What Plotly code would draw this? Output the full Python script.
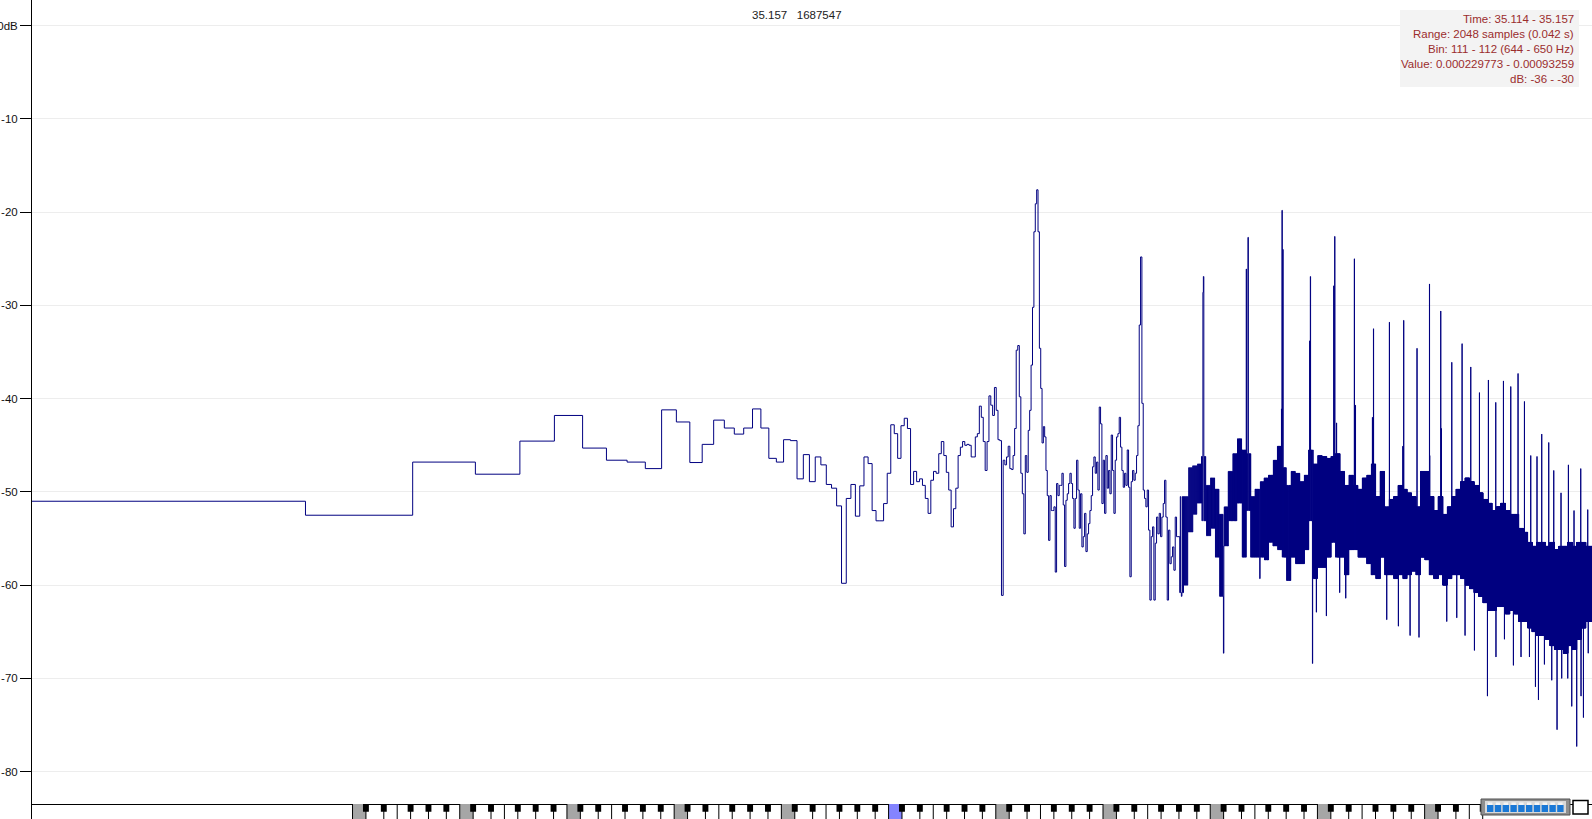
import numpy as np
import plotly.graph_objects as go

# ---------------- data ----------------
FS = 48000
NFFT = 8192
DF = FS / NFFT            # Hz per FFT bin
F_MIN, F_MAX = 1.0, 24000.0
DB_MIN, DB_MAX = -83.47, 2.756

# FFT bins 0..120 (one value per bin, dB)
low_db = [
    -51.0, -52.5, -46.8, -48.1, -44.55, -41.8, -45.3, -46.6, -46.8, -47.5,
    -41.2, -42.5, -46.85, -44.9, -42.3, -43.15, -43.8, -43.15, -41.1, -43.15,
    -46.4, -46.8, -44.4, -44.5, -48.6, -46.0, -48.9, -46.25, -47.1, -49.2,
    -49.6, -51.5, -59.8, -50.7, -49.2, -52.6, -49.35, -46.25, -46.96, -52.0,
    -53.1, -53.1, -51.25, -48.0, -42.8, -43.75, -46.4, -42.9, -42.1, -43.2,
    -49.2, -47.8, -48.9, -48.6, -49.3, -50.7, -52.3, -48.75, -47.8, -48.0,
    -45.9, -44.6, -46.1, -47.9, -49.8, -53.75, -51.8, -49.6, -46.1, -45.2,
    -44.6, -45.0, -44.9, -45.0, -46.25, -46.25, -44.1, -43.75, -40.8, -42.0,
    -44.6, -47.7, -44.6, -39.7, -40.7, -41.8, -38.8, -41.25, -44.4, -44.5,
    -61.1, -46.6, -47.1, -46.25, -45.1, -47.5, -47.6, -46.1, -43.2, -34.8,
    -34.3, -39.8, -48.0, -50.2, -54.5, -46.1, -47.9, -43.4, -41.25, -36.4,
    -30.2, -22.1, -19.1, -17.6, -22.1, -34.6, -38.9, -44.75, -43.0, -44.1,
    -47.7,
]

# 709 Hz .. 1665 Hz, read at a constant log step (ratio MID_STEP)
MID_STEP = 1.008656
mid_db = [
    -50.4, -55.2, -50.4, -52.0, -52.0, -51.6, -58.6, -49.1, -50.4, -49.3,
    -49.3, -48.0, -51.4, -58.0, -50.9, -50.2, -49.1, -48.0, -49.1, -50.7,
    -53.9, -50.7, -46.6, -49.8, -53.9, -50.2, -55.9, -54.8, -52.3, -56.4,
    -54.5, -53.4, -52.0, -50.4, -47.3, -46.25, -48.0, -46.8, -49.8, -40.9,
    -42.7, -51.25, -46.6, -52.3, -46.1, -49.6, -47.7, -50.2, -43.9, -47.7,
    -52.3, -46.6, -44.1, -43.75, -42.0, -45.2, -47.7, -49.5, -48.0, -49.3,
    -45.5, -49.5, -59.1, -48.9, -47.7, -48.75, -48.0, -46.1, -42.9, -32.1,
    -24.8, -40.5, -49.8, -50.7, -51.6, -49.8, -54.1, -61.6, -54.8, -53.75,
    -61.6, -55.5, -52.7, -54.5, -52.3, -54.8, -52.7, -51.25, -48.75, -52.7,
    -61.6, -54.1, -57.7, -56.96, -55.9, -58.4, -52.7, -54.8, -54.8,
]

# dense part: upper / lower edge of the noise band, per quarter-tone column
COLS_PER_OCT = 24
col_hi = [
    -50.5, -50.5, -47.4, -47.2, -47.0, -46.2, -49.3, -48.5, -49.7, -52.4,
    -51.6, -47.8, -45.9, -44.3, -45.5, -45.9, -50.5, -49.7, -48.9, -48.5,
    -48.2, -46.6, -45.1, -47.4, -49.3, -47.8, -48.0, -48.9, -48.2, -45.5,
    -47.0, -46.1, -46.2, -46.4, -46.2, -45.9, -47.8, -49.3, -48.2, -49.3,
    -49.7, -48.5, -48.2, -47.0, -50.5, -47.8, -51.6, -50.8, -50.5, -49.3,
    -49.7, -50.1, -50.5, -51.6, -47.8, -47.8, -50.5, -52.0, -50.5, -52.4,
    -51.6, -50.5, -49.7, -48.9, -48.5, -48.9, -49.3, -50.1, -50.8, -51.2,
    -52.0, -51.6, -51.2, -52.0, -52.4, -52.4, -53.9, -54.3, -55.4, -55.8,
    -55.4, -55.4, -55.8, -55.4, -56.2, -55.8, -55.8, -55.4, -55.8, -55.4,
    -55.4, -55.8,
]
col_lo = [
    -60.8, -60.0, -54.3, -52.4, -51.2, -53.1, -54.7, -53.9, -57.0, -61.2,
    -55.8, -53.1, -53.1, -51.2, -57.0, -52.0, -57.0, -57.0, -57.0, -57.3,
    -55.4, -55.8, -56.2, -57.0, -59.5, -57.0, -57.7, -57.7, -56.2, -53.1,
    -59.3, -58.1, -58.1, -57.0, -55.4, -57.0, -57.0, -58.9, -56.2, -56.2,
    -57.0, -57.0, -57.7, -58.9, -59.3, -57.0, -58.9, -58.9, -59.3, -58.9,
    -59.3, -58.9, -58.5, -58.9, -57.0, -57.3, -58.9, -59.3, -58.9, -60.0,
    -59.3, -58.9, -58.9, -59.3, -60.0, -60.4, -60.8, -61.2, -61.9, -62.7,
    -62.7, -62.3, -62.3, -63.1, -62.7, -63.1, -63.9, -63.9, -64.6, -65.0,
    -65.4, -65.4, -65.8, -66.5, -66.9, -66.9, -67.3, -66.5, -66.9, -65.8,
    -64.6, -63.9,
]

# harmonic peaks (and their shoulders) in the dense part
peak_hz = [1942, 1951, 2489, 2571, 2598, 3223, 3236, 3257, 3871, 3888,
           4520, 4550, 4600, 5167, 5201, 5805, 5842, 6480, 7061, 7107,
           7745, 8391, 8407, 9028, 9068, 9692, 10360, 10959, 11592, 12287,
           12881, 13538, 14192, 14877, 15506, 16150, 16822, 17341, 18144, 18739,
           19646, 20607, 21366, 22313, 23346]
peak_db = [-28.6, -26.9, -44.3, -26.1, -22.7, -41.1, -19.8, -24.0, -33.8, -26.9,
           -27.9, -22.6, -42.6, -25.0, -40.7, -42.0, -32.5, -31.8, -45.1, -31.6,
           -34.6, -27.7, -46.1, -30.6, -43.2, -36.1, -34.1, -36.6, -39.35, -38.0,
           -40.4, -38.1, -38.7, -37.3, -40.3, -46.1, -46.2, -43.8, -44.7, -47.7,
           -50.1, -47.1, -52.0, -47.5, -51.9]

# deep dips in the dense part
dip_hz = [1689, 2220, 2802, 3364, 3939, 4042, 4312, 4699, 4885, 6367,
          6867, 7402, 7845, 9384, 10011, 10563, 11223, 12207, 12900, 13626,
          14442, 15169, 16015, 16649, 16975, 17647, 18499, 19143, 19734, 20515,
          21053, 21743, 22357, 22707, 23420]
dip_db = [-61.2, -67.3, -59.3, -59.5, -68.4, -62.9, -63.3, -60.8, -61.4, -63.7,
          -64.4, -65.4, -65.6, -63.9, -63.5, -65.4, -67.0, -71.9, -67.7, -65.8,
          -68.6, -67.7, -67.7, -70.9, -72.3, -68.5, -70.2, -75.5, -70.0, -70.0,
          -73.0, -77.3, -71.9, -74.2, -67.3]

tick_vals = [0, -10, -20, -30, -40, -50, -60, -70, -80]
tick_text = ["0dB", "-10", "-20", "-30", "-40", "-50", "-60", "-70", "-80"]

header_text = "35.157\u00a0\u00a0\u00a01687547"
info_lines = [
    "Time: 35.114 - 35.157",
    "Range: 2048 samples (0.042 s)",
    "Bin: 111 - 112 (644 - 650 Hz)",
    "Value: 0.000229773 - 0.00093259",
    "dB: -36 - -30",
]

MIDI_LO, MIDI_HI, MIDDLE_C = 0, 127, 60
WHITE_SPANS = {0: (-0.5, 1.0), 2: (1.0, 3.0), 4: (3.0, 4.5), 5: (4.5, 6.0),
               7: (6.0, 8.0), 9: (8.0, 10.0), 11: (10.0, 11.5)}

# ---------------- build spectrum step line ----------------
edges, vals = [], []
for k, v in enumerate(low_db):
    edges.append(max(k * DF, 0.5))
    vals.append(v)
f = len(low_db) * DF
for v in mid_db:
    edges.append(f)
    vals.append(v)
    f *= MID_STEP
mid_end = f
k0 = int(np.ceil(mid_end / DF))
kc = np.arange(k0, NFFT // 2)
fc = (kc + 0.5) * DF
jc = np.clip(np.floor(np.log2(fc / mid_end) * COLS_PER_OCT).astype(int), 0, len(col_hi) - 1)
vc = np.where(kc % 2 == 0, np.array(col_hi)[jc], np.array(col_lo)[jc]).astype(float)
for hz, db in zip(peak_hz + dip_hz, peak_db + dip_db):
    idx = int(hz // DF) - k0
    if 0 <= idx < len(vc):
        vc[idx] = db
edges += list(kc * DF)
vals += list(vc)
edges.append((NFFT // 2) * DF)
vals.append(vals[-1])

fig = go.Figure()
fig.add_trace(go.Scatter(
    x=edges, y=vals, mode="lines",
    line=dict(color="#000080", width=1, shape="hv", simplify=False),
    hoverinfo="skip", showlegend=False, xaxis="x", yaxis="y"))

# ---------------- piano keyboard ----------------
def note_hz(p):
    return 440.0 * 2 ** ((p - 69) / 12.0)

KB_TOP, KB_BLACK = 15.0, 7.3
gray_x, gray_y, blue_x, blue_y = [], [], [], []
line_x, line_y, blk_x, blk_y = [], [], [], []
for m in range(MIDI_LO, MIDI_HI + 1):
    s = m % 12
    c = m - s
    if s in WHITE_SPANS:
        a, b = WHITE_SPANS[s]
        x0 = note_hz(c + a)
        line_x += [x0, x0, None]
        line_y += [0, KB_TOP, None]
        if s == 0:
            x1 = note_hz(c + b)
            tx, ty = (blue_x, blue_y) if m == MIDDLE_C else (gray_x, gray_y)
            tx += [x0, x1, x1, x0, x0, None]
            ty += [0, 0, KB_TOP, KB_TOP, 0, None]
    else:
        x0, x1 = note_hz(m - 0.33), note_hz(m + 0.33)
        blk_x += [x0, x1, x1, x0, x0, None]
        blk_y += [KB_BLACK, KB_BLACK, KB_TOP, KB_TOP, KB_BLACK, None]

for xs, ys, col in [(gray_x, gray_y, "#a6a6a6"), (blue_x, blue_y, "#8484ff")]:
    fig.add_trace(go.Scatter(x=xs, y=ys, mode="lines", fill="toself", fillcolor=col,
                             line=dict(width=0, color=col), hoverinfo="skip",
                             showlegend=False, xaxis="x", yaxis="y2"))
fig.add_trace(go.Scatter(x=line_x, y=line_y, mode="lines",
                         line=dict(width=1, color="#000000"), hoverinfo="skip",
                         showlegend=False, xaxis="x", yaxis="y2"))
fig.add_trace(go.Scatter(x=blk_x, y=blk_y, mode="lines", fill="toself", fillcolor="#000000",
                         line=dict(width=0, color="#000000"), hoverinfo="skip",
                         showlegend=False, xaxis="x", yaxis="y2"))

# ---------------- layout ----------------
W, H = 1592, 819
L = 32
KB_H = 15


def px(x):
    return (x - L) / (W - L)


def py(y):
    return 1 - y / H


font_main = "Liberation Sans, Arial, sans-serif"
fig.update_layout(
    template="none",
    width=W, height=H,
    margin=dict(l=L, r=0, t=0, b=0, autoexpand=False),
    paper_bgcolor="white", plot_bgcolor="white",
    showlegend=False,
    xaxis=dict(type="log", range=[np.log10(F_MIN), np.log10(F_MAX)],
               showgrid=False, zeroline=False, showticklabels=False, ticks="",
               showline=True, linecolor="#000000", linewidth=1, anchor="y",
               automargin=False),
    yaxis=dict(domain=[KB_H / H, 1], range=[DB_MIN, DB_MAX],
               tickvals=tick_vals, ticktext=tick_text, ticks="outside",
               ticklen=11, tickwidth=1, tickcolor="#000000",
               tickfont=dict(family=font_main, size=11.5, color="#111111"),
               ticklabelstandoff=0,
               showline=True, linecolor="#000000", linewidth=1,
               showgrid=True, gridcolor="#ededed", gridwidth=1,
               zeroline=False, automargin=False),
    yaxis2=dict(domain=[0, KB_H / H], range=[0, KB_TOP], anchor="x",
                showline=True, linecolor="#000000", linewidth=1,
                showgrid=False, zeroline=False, showticklabels=False, ticks="",
                automargin=False),
)

shapes = []
# info box background
shapes.append(dict(type="rect", xref="paper", yref="paper",
                   x0=px(1400), x1=px(1579), y0=py(87), y1=py(10),
                   fillcolor="#f3f3f3", line=dict(width=0)))
# scroll widget at bottom right
shapes.append(dict(type="rect", xref="paper", yref="paper",
                   x0=px(1481), x1=px(1570), y0=py(815), y1=py(799),
                   fillcolor="#8e8e8e", line=dict(width=1, color="#505050")))
shapes.append(dict(type="rect", xref="paper", yref="paper",
                   x0=px(1485), x1=px(1566), y0=py(813), y1=py(801),
                   fillcolor="#d9d9d9", line=dict(width=0)))
for i in range(10):
    cx0 = 1487 + 7.8 * i
    shapes.append(dict(type="rect", xref="paper", yref="paper",
                       x0=px(cx0), x1=px(cx0 + 6.4), y0=py(812), y1=py(805),
                       fillcolor="#1a78d6", line=dict(width=0)))
    shapes.append(dict(type="rect", xref="paper", yref="paper",
                       x0=px(cx0 + 1), x1=px(cx0 + 5.4), y0=py(805), y1=py(802.5),
                       fillcolor="#f4f4f4", line=dict(width=0)))
shapes.append(dict(type="rect", xref="paper", yref="paper",
                   x0=px(1573), x1=px(1588), y0=py(814), y1=py(800.5),
                   fillcolor="white", line=dict(width=1.5, color="#000000")))
fig.update_layout(shapes=shapes)

annotations = [dict(text=header_text, xref="paper", yref="paper",
                    x=px(797), y=py(15), xanchor="center", yanchor="middle",
                    showarrow=False,
                    font=dict(family=font_main, size=11.5, color="#222222"))]
for i, t in enumerate(info_lines):
    annotations.append(dict(text=t, xref="paper", yref="paper",
                            x=px(1576), y=py(19 + 15 * i), xanchor="right",
                            yanchor="middle", showarrow=False,
                            font=dict(family=font_main, size=11.5, color="#9b2d2d")))
fig.update_layout(annotations=annotations)

fig.write_html(
    "out.html",
    config={"displayModeBar": False},
    post_script="document.body.style.margin='0';document.body.style.overflow='hidden';",
)
